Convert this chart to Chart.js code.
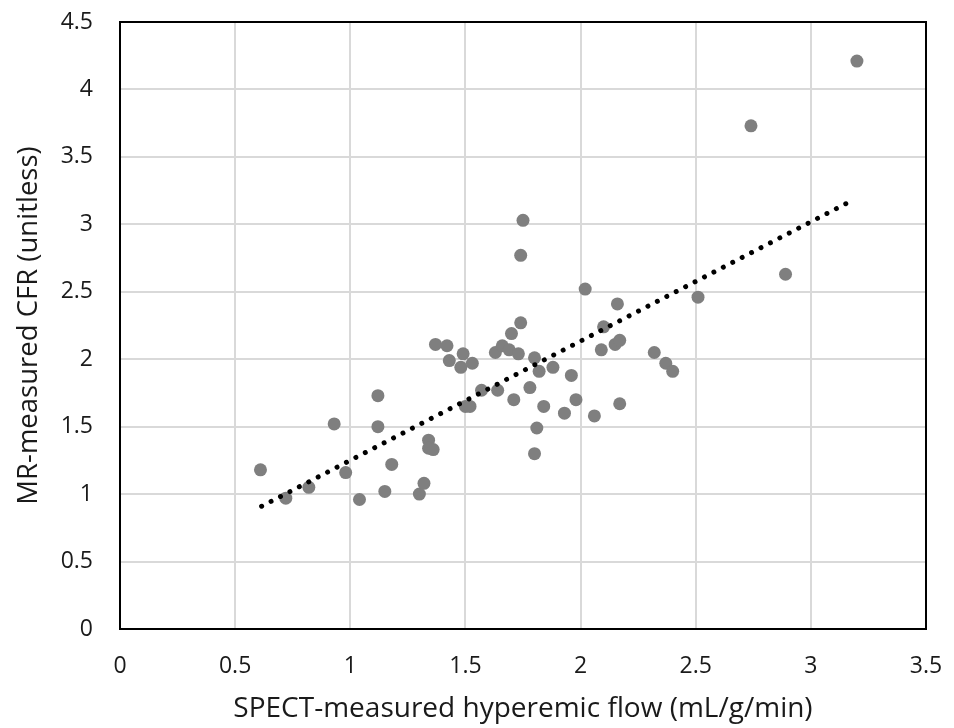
<!DOCTYPE html>
<html>
<head>
<meta charset="utf-8">
<script src="https://cdn.jsdelivr.net/npm/chart.js@4.4.0/dist/chart.umd.min.js"></script>
<style>
  html, body { margin: 0; padding: 0; background: #fff; }
  #chart { display: block; }
</style>
</head>
<body>
<canvas id="chart" width="954" height="728"></canvas>
<script>
// SPECT hyperemic flow (x) vs MR-measured CFR (y)
const flowValues = [
  0.61, 0.72, 0.82, 0.93, 0.98, 1.04, 1.12, 1.12, 1.15, 1.18,
  1.30, 1.32, 1.34, 1.34, 1.36, 1.37, 1.42, 1.43, 1.49, 1.48,
  1.50, 1.52, 1.53, 1.57, 1.64, 1.63, 1.66, 1.69, 1.70, 1.71,
  1.73, 1.74, 1.74, 1.75, 1.78, 1.80, 1.82, 1.81, 1.80, 1.84,
  1.88, 1.93, 1.96, 1.98, 2.02, 2.06, 2.09, 2.10, 2.16, 2.15,
  2.17, 2.17, 2.32, 2.37, 2.40, 2.51, 2.74, 2.89, 3.20
];
const cfrValues = [
  1.18, 0.97, 1.05, 1.52, 1.16, 0.96, 1.73, 1.50, 1.02, 1.22,
  1.00, 1.08, 1.40, 1.34, 1.33, 2.11, 2.10, 1.99, 2.04, 1.94,
  1.65, 1.65, 1.97, 1.77, 1.77, 2.05, 2.10, 2.07, 2.19, 1.70,
  2.04, 2.27, 2.77, 3.03, 1.79, 2.01, 1.91, 1.49, 1.30, 1.65,
  1.94, 1.60, 1.88, 1.70, 2.52, 1.58, 2.07, 2.24, 2.41, 2.11,
  2.14, 1.67, 2.05, 1.97, 1.91, 2.46, 3.73, 2.63, 4.21
];
// linear trendline end points
const trendX = [0.615, 3.16];
const trendY = [0.91, 3.16];

const xTicks = [0, 0.5, 1, 1.5, 2, 2.5, 3, 3.5];
const xTickLabels = ['0', '0.5', '1', '1.5', '2', '2.5', '3', '3.5'];
const yTicks = [0, 0.5, 1, 1.5, 2, 2.5, 3, 3.5, 4, 4.5];
const yTickLabels = ['0', '0.5', '1', '1.5', '2', '2.5', '3', '3.5', '4', '4.5'];

const FONT = '"Open Sans", Lato, sans-serif';
const TEXT = '#1a1a1a';

// draws the black frame round the plot area
const frame = {
  id: 'frame',
  afterDraw(chart) {
    const a = chart.chartArea;
    const ctx = chart.ctx;
    ctx.save();
    ctx.strokeStyle = '#000';
    ctx.lineWidth = 2;
    ctx.strokeRect(a.left, a.top, a.right - a.left, a.bottom - a.top);
    ctx.restore();
  }
};

function noPad(axis) {
  axis.paddingLeft = 0;
  axis.paddingRight = 0;
  axis.paddingTop = 0;
  axis.paddingBottom = 0;
}

new Chart(document.getElementById('chart'), {
  type: 'scatter',
  data: {
    datasets: [
      {
        label: 'CFR',
        data: flowValues.map(function (x, i) { return { x: x, y: cfrValues[i] }; }),
        backgroundColor: '#7f7f7f',
        borderColor: '#7f7f7f',
        borderWidth: 0,
        pointRadius: 6.5,
        order: 2
      },
      {
        label: 'Trend',
        type: 'line',
        data: trendX.map(function (x, i) { return { x: x, y: trendY[i] }; }),
        borderColor: '#000',
        borderWidth: 5,
        borderDash: [0.01, 10.6],
        borderCapStyle: 'round',
        pointRadius: 0,
        fill: false,
        order: 1
      }
    ]
  },
  options: {
    responsive: false,
    animation: false,
    layout: { padding: { left: 0, top: 22, right: 28, bottom: 0 } },
    plugins: {
      legend: { display: false },
      tooltip: { enabled: false }
    },
    scales: {
      x: {
        type: 'linear',
        min: 0,
        max: 3.5,
        afterBuildTicks: function (axis) { axis.ticks = xTicks.map(function (v) { return { value: v }; }); },
        afterFit: function (axis) { axis.height = 99; noPad(axis); },
        border: { display: false },
        grid: { color: '#d9d9d9', lineWidth: 2, drawTicks: false },
        ticks: {
          padding: 24,
          color: TEXT,
          font: { family: FONT, size: 23 },
          maxRotation: 0,
          callback: function (v, i) { return xTickLabels[i]; }
        },
        title: {
          display: true,
          text: 'SPECT-measured hyperemic flow (mL/g/min)',
          color: TEXT,
          font: { family: FONT, size: 28, lineHeight: 1.2 },
          padding: { top: 0, bottom: 2 }
        }
      },
      y: {
        type: 'linear',
        min: 0,
        max: 4.5,
        afterBuildTicks: function (axis) { axis.ticks = yTicks.map(function (v) { return { value: v }; }); },
        afterFit: function (axis) { axis.width = 120; noPad(axis); },
        border: { display: false },
        grid: { color: '#d9d9d9', lineWidth: 2, drawTicks: false },
        ticks: {
          padding: 27,
          color: TEXT,
          font: { family: FONT, size: 23 },
          callback: function (v, i) { return yTickLabels[i]; }
        },
        title: {
          display: true,
          text: 'MR-measured CFR (unitless)',
          color: TEXT,
          font: { family: FONT, size: 27.5, lineHeight: 1.2 },
          padding: { top: 13, bottom: 0 }
        }
      }
    }
  },
  plugins: [frame]
});
</script>
</body>
</html>
